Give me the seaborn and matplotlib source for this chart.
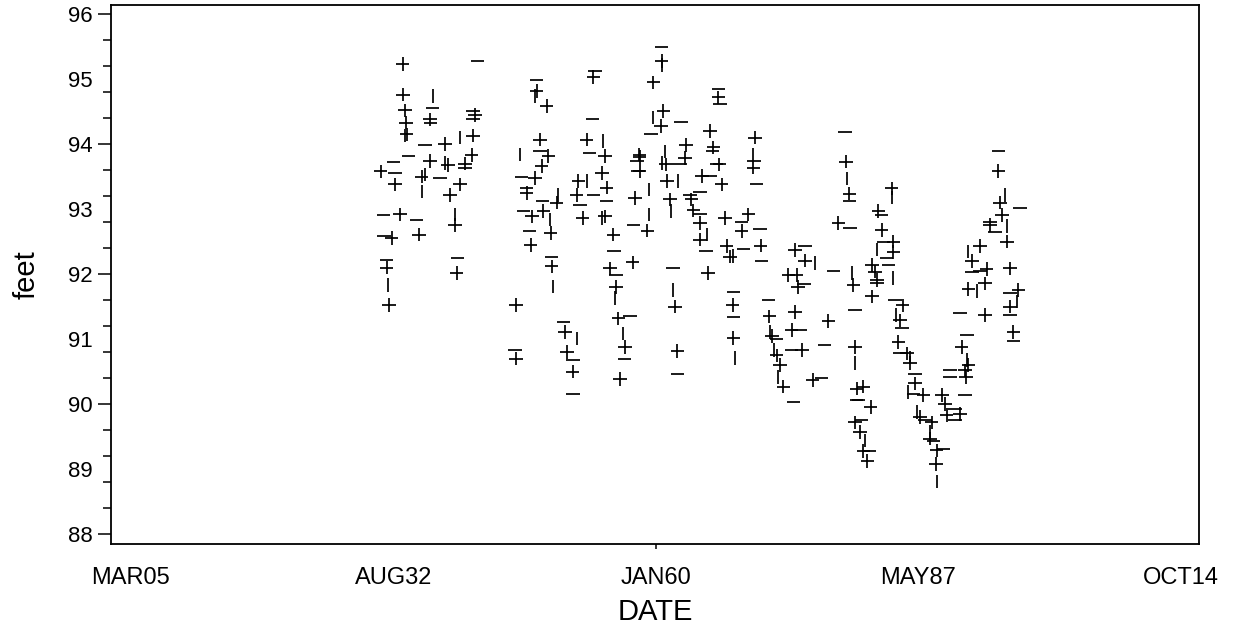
import numpy as np
import pandas as pd
import matplotlib
matplotlib.use("Agg")
import matplotlib.pyplot as plt
import seaborn as sns

# water level readings as (decimal year, feet)
readings_1930s = [
    (1933.58, 95.23), (1941.36, 95.28), (1933.64, 94.76), (1936.71, 94.74), (1933.82, 94.52),
    (1936.71, 94.56), (1936.43, 94.38), (1936.50, 94.32), (1933.93, 94.33), (1933.82, 94.13),
    (1934.00, 94.15), (1940.94, 94.51), (1941.10, 94.45), (1940.94, 94.38), (1940.94, 94.13),
    (1939.56, 94.10), (1940.78, 93.83), (1935.91, 93.99), (1937.99, 94.00), (1934.17, 93.82),
    (1936.43, 93.74), (1937.99, 93.71), (1938.30, 93.68), (1932.60, 93.73), (1931.29, 93.58),
    (1932.78, 93.56), (1932.78, 93.38), (1935.91, 93.53), (1935.56, 93.50), (1937.47, 93.48),
    (1939.56, 93.38), (1940.08, 93.64), (1940.08, 93.70), (1935.56, 93.27), (1938.51, 93.22),
    (1931.56, 92.91), (1933.30, 92.92), (1935.04, 92.84), (1935.28, 92.61), (1939.04, 92.92),
    (1939.04, 92.76), (1931.63, 92.58), (1932.43, 92.56), (1931.91, 92.22), (1931.91, 92.10),
    (1932.08, 91.83), (1932.18, 91.53), (1939.28, 92.25), (1939.21, 92.02),
]
readings_1940s = [
    (1947.56, 94.99), (1947.56, 94.82), (1947.38, 94.74), (1948.60, 94.59), (1953.64, 95.13),
    (1953.46, 95.03), (1953.36, 94.38), (1952.77, 94.07), (1954.50, 94.05), (1954.68, 93.82),
    (1953.04, 93.87), (1947.90, 94.07), (1947.90, 93.89), (1948.77, 93.82), (1945.82, 93.84),
    (1948.08, 93.66), (1945.99, 93.49), (1947.38, 93.48), (1946.51, 93.33), (1946.51, 93.25),
    (1949.81, 93.22), (1949.64, 93.10), (1948.18, 93.12), (1948.25, 92.97), (1946.16, 92.97),
    (1947.04, 92.89), (1948.94, 92.84), (1949.02, 92.63), (1946.79, 92.67), (1946.93, 92.45),
    (1949.12, 92.27), (1949.12, 92.12), (1949.29, 91.81), (1945.40, 91.53), (1945.29, 90.83),
    (1945.40, 90.70), (1950.33, 91.27), (1950.51, 91.11), (1951.73, 91.01), (1950.69, 90.80),
    (1951.37, 90.68), (1951.30, 90.50), (1951.37, 90.16), (1951.90, 93.43), (1952.77, 93.43),
    (1954.86, 93.33), (1953.46, 93.22), (1951.73, 93.22), (1952.07, 93.07), (1952.35, 92.86),
    (1954.34, 92.86), (1955.55, 92.61), (1955.60, 92.36), (1955.20, 92.09), (1955.83, 91.99),
    (1955.83, 91.80), (1955.72, 91.63), (1954.34, 93.56), (1954.86, 93.12), (1954.68, 92.89),
    (1957.29, 91.35), (1956.07, 91.32), (1956.59, 91.09), (1956.77, 90.88), (1956.70, 90.70),
    (1956.25, 90.39),
]
readings_1960s = [
    (1960.59, 95.49), (1960.59, 95.28), (1960.59, 95.22), (1959.72, 94.95), (1966.50, 94.85),
    (1966.50, 94.72), (1966.68, 94.61), (1960.76, 94.51), (1959.72, 94.41), (1960.50, 94.28),
    (1962.61, 94.34), (1965.63, 94.20), (1959.45, 94.15), (1963.13, 93.99), (1960.94, 93.89),
    (1965.98, 93.95), (1965.90, 93.90), (1958.26, 93.84), (1957.99, 93.74), (1958.30, 93.80),
    (1960.60, 93.71), (1961.04, 93.69), (1962.50, 93.69), (1963.02, 93.79), (1958.10, 93.59),
    (1958.30, 93.59), (1970.15, 93.84), (1970.15, 93.64), (1970.20, 93.74), (1970.33, 94.10),
    (1970.50, 93.39), (1961.12, 93.43), (1962.33, 93.43), (1964.77, 93.51), (1965.63, 93.51),
    (1966.85, 93.38), (1966.33, 93.69), (1966.60, 93.69), (1959.30, 93.30), (1957.81, 93.17),
    (1963.55, 93.22), (1963.70, 93.15), (1964.59, 93.27), (1961.46, 93.15), (1961.53, 92.97),
    (1963.89, 92.98), (1964.59, 92.92), (1964.59, 92.79), (1957.63, 92.76), (1959.09, 92.67),
    (1959.30, 92.92), (1967.20, 92.86), (1968.94, 92.81), (1968.94, 92.66), (1970.85, 92.70),
    (1969.63, 92.92), (1965.29, 92.61), (1964.59, 92.53), (1965.21, 92.35), (1967.37, 92.43),
    (1969.11, 92.39), (1967.72, 92.27), (1968.00, 92.28), (1970.92, 92.44), (1971.02, 92.21),
    (1957.57, 92.18), (1961.80, 92.09), (1965.45, 92.02), (1961.80, 91.76), (1961.98, 91.50),
    (1968.06, 91.73), (1968.00, 91.53), (1968.06, 91.34), (1968.06, 91.02), (1968.24, 90.71),
    (1962.22, 90.82), (1962.22, 90.47),
]
readings_1970s = [
    (1974.50, 92.37), (1975.54, 92.43), (1975.54, 92.21), (1976.58, 92.17), (1974.67, 91.99),
    (1975.44, 91.85), (1974.80, 91.80), (1978.49, 92.05), (1973.80, 91.99), (1980.41, 92.02),
    (1980.58, 91.83), (1971.71, 91.60), (1974.50, 91.42), (1980.76, 91.45), (1977.97, 91.28),
    (1971.89, 91.11), (1972.10, 91.05), (1972.59, 91.01), (1974.15, 91.14), (1975.02, 91.14),
    (1971.82, 91.35), (1972.31, 90.83), (1972.59, 90.75), (1974.15, 90.83), (1975.20, 90.83),
    (1977.55, 90.91), (1972.93, 90.60), (1972.76, 90.42), (1973.28, 90.27), (1974.32, 90.03),
    (1976.34, 90.37), (1977.28, 90.40), (1980.76, 90.88), (1980.76, 90.63), (1980.93, 90.24),
    (1980.93, 90.06), (1980.76, 89.72), (1979.71, 94.18), (1979.82, 93.73), (1979.89, 93.47),
    (1980.16, 93.24), (1980.16, 93.12), (1979.01, 92.79), (1980.23, 92.71),
]
readings_1980s = [
    (1984.58, 93.32), (1984.58, 93.18), (1983.19, 92.97), (1983.54, 92.91), (1983.54, 92.68),
    (1983.71, 92.50), (1984.75, 92.50), (1983.02, 92.38), (1984.75, 92.34), (1984.06, 92.25),
    (1982.50, 92.14), (1984.23, 92.14), (1982.84, 92.04), (1984.75, 91.94), (1983.02, 91.91),
    (1983.02, 91.87), (1982.50, 91.66), (1984.93, 91.60), (1985.73, 91.52), (1985.03, 91.37),
    (1985.45, 91.29), (1985.63, 91.17), (1985.27, 90.96), (1985.45, 90.78), (1986.15, 90.78),
    (1986.49, 90.72), (1986.49, 90.63), (1987.01, 90.47), (1987.01, 90.32), (1986.84, 90.16),
    (1987.88, 90.14), (1986.31, 90.19), (1989.80, 90.14), (1992.23, 90.14), (1990.14, 90.00),
    (1991.19, 89.93), (1991.71, 89.85), (1987.19, 89.88), (1987.53, 89.80), (1988.06, 89.75),
    (1988.75, 89.72), (1991.19, 89.75), (1990.32, 89.83), (1988.58, 89.57), (1988.58, 89.47),
    (1988.92, 89.44), (1989.27, 89.29), (1989.96, 89.31), (1989.20, 89.08), (1989.27, 88.81),
    (1981.62, 90.27), (1981.10, 90.06), (1982.39, 89.96), (1981.45, 89.75), (1981.28, 89.57),
    (1981.80, 89.44), (1981.62, 89.28), (1982.25, 89.28), (1982.04, 89.13),
]
readings_1990s = [
    (1995.70, 93.89), (1995.70, 93.59), (1996.41, 93.22), (1995.88, 93.10), (1997.96, 93.02),
    (1996.06, 92.91), (1994.84, 92.81), (1994.84, 92.76), (1996.58, 92.74), (1996.58, 92.50),
    (1995.36, 92.65), (1996.92, 92.09), (1996.92, 91.71), (1997.79, 91.76), (1997.69, 91.58),
    (1996.92, 91.50), (1996.92, 91.37), (1997.27, 91.11), (1997.27, 90.97), (1993.79, 92.43),
    (1992.57, 92.35), (1992.93, 92.20), (1992.93, 92.04), (1994.49, 92.08), (1993.79, 92.05),
    (1992.57, 91.77), (1993.45, 91.74), (1994.31, 91.86), (1991.71, 91.41), (1994.31, 91.37),
    (1992.41, 91.06), (1991.88, 90.88), (1992.41, 90.68), (1992.57, 90.60), (1990.66, 90.52),
    (1992.23, 90.52), (1990.66, 90.42), (1992.33, 90.42),
]

# SAS date axis: days counted from 01JAN1960
tick_days = [-20000, -10000, 0, 10000, 20000]
tick_labels = ["MAR05", "AUG32", "JAN60", "MAY87", "OCT14"]

df = pd.DataFrame(readings_1930s + readings_1940s + readings_1960s
                  + readings_1970s + readings_1980s + readings_1990s,
                  columns=["DATE", "feet"])
# the old plotter left many '+' symbols half drawn
glyph_cycle = ["plus", "dash", "plus", "bar", "plus", "dash"]
df["glyph"] = [glyph_cycle[i % len(glyph_cycle)] for i in range(len(df))]

sns.set_theme(style="white")
plt.rcParams["font.family"] = ["Liberation Sans", "DejaVu Sans"]

fig = plt.figure(figsize=(12.35, 6.27), dpi=100)
ax = fig.add_axes([111 / 1235, 1 - 544 / 627, 1088 / 1235, 539 / 627])

sns.scatterplot(data=df, x="DATE", y="feet", style="glyph",
                markers={"plus": "+", "dash": "_", "bar": "|"},
                color="black", s=95, linewidth=1.25, legend=False, ax=ax)

ax.set_xlim(1903.16, 2016.63)
ax.set_ylim(87.85, 96.14)

# x axis: labels every 10000 days, only JAN60 carries a tick mark
ax.set_xticks([1960 + d / 365.25 for d in tick_days])
ax.set_xticklabels(tick_labels)
ax.tick_params(axis="x", bottom=True, length=3.6, width=1.1, color="black",
               labelsize=17, pad=13, labelcolor="black")
for i, t in enumerate(ax.xaxis.get_major_ticks()):
    if tick_labels[i] != "JAN60":
        t.tick1line.set_visible(False)

# y axis: labels at every foot, tick marks every 0.4 ft
ax.set_yticks(np.arange(88, 97))
ax.set_yticklabels([str(v) for v in range(88, 97)], fontsize=16)
ax.set_yticks([v for v in np.arange(88, 96.01, 0.4) if abs(v - round(v)) > 0.01 or round(v) % 2], minor=True)
ax.tick_params(axis="y", which="major", left=True, length=9.4, width=1.1, color="black",
               pad=3.6, labelcolor="black")
ax.tick_params(axis="y", which="minor", left=True, length=5.5, width=1.1, color="black")
for v, t in zip(np.arange(88, 97), ax.yaxis.get_major_ticks()):
    if v % 2:
        t.tick1line.set_visible(False)

ax.set_xlabel("DATE", fontsize=21, color="black")
ax.set_ylabel("feet", fontsize=21, color="black")
ax.xaxis.set_label_coords(0.5, -0.1)
ax.yaxis.set_label_coords(-0.065, 0.5)

for s in ax.spines.values():
    s.set_visible(True)
    s.set_color("black")
    s.set_linewidth(1.3)

fig.savefig("out.png", dpi=100)
